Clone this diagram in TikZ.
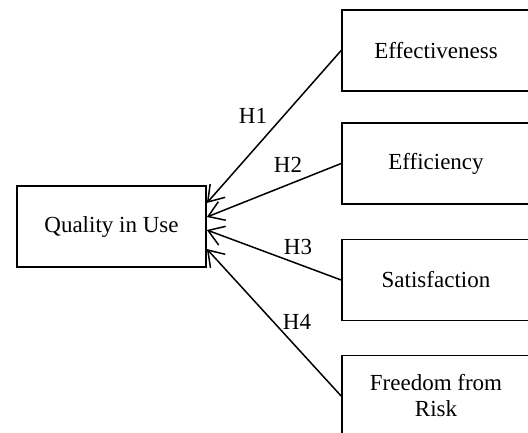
\documentclass[tikz,border=0pt]{standalone}
\usepackage{fontspec}
\setmainfont{Liberation Serif}
\usetikzlibrary{arrows.meta}
\begin{document}
\begin{tikzpicture}[x=1pt,y=-1pt,
  box/.style={draw,line width=1.7pt,minimum height=81pt,inner sep=0pt,font=\fontsize{23}{27}\selectfont,align=center},
  rbox/.style={box,minimum width=188pt},
  conn/.style={line width=1.5pt,-{Straight Barb[length=15pt,width=20pt,line width=1.5pt]}},
  hl/.style={font=\fontsize{23}{27}\selectfont}]
\useasboundingbox (0,0) rectangle (528,432);
\clip (0,0) rectangle (528,432);
\node[box,minimum width=189pt] (q) at (111.5,226.5) {Quality in Use};
\node[rbox] (e1) at (436,50.5) {Effectiveness};
\node[rbox] (e2) at (436,163.5) {Efficiency};
\node[rbox] (e3) at (436,280) {Satisfaction};
\node[rbox] (e4) at (436,396) {Freedom from\\[-1pt]Risk};
\draw[conn] (e1.west) -- ([yshift=23.5pt]q.east);
\draw[conn] (e2.west) -- ([yshift=9.5pt]q.east);
\draw[conn] (e3.west) -- ([yshift=-3.5pt]q.east);
\draw[conn] (e4.west) -- ([yshift=-22.5pt]q.east);
\node[hl] (h1) at (253,116) {H1};
\node[hl] (h2) at (288,165) {H2};
\node[hl] (h3) at (298,247) {H3};
\node[hl] (h4) at (297,322) {H4};
\end{tikzpicture}
\end{document}
